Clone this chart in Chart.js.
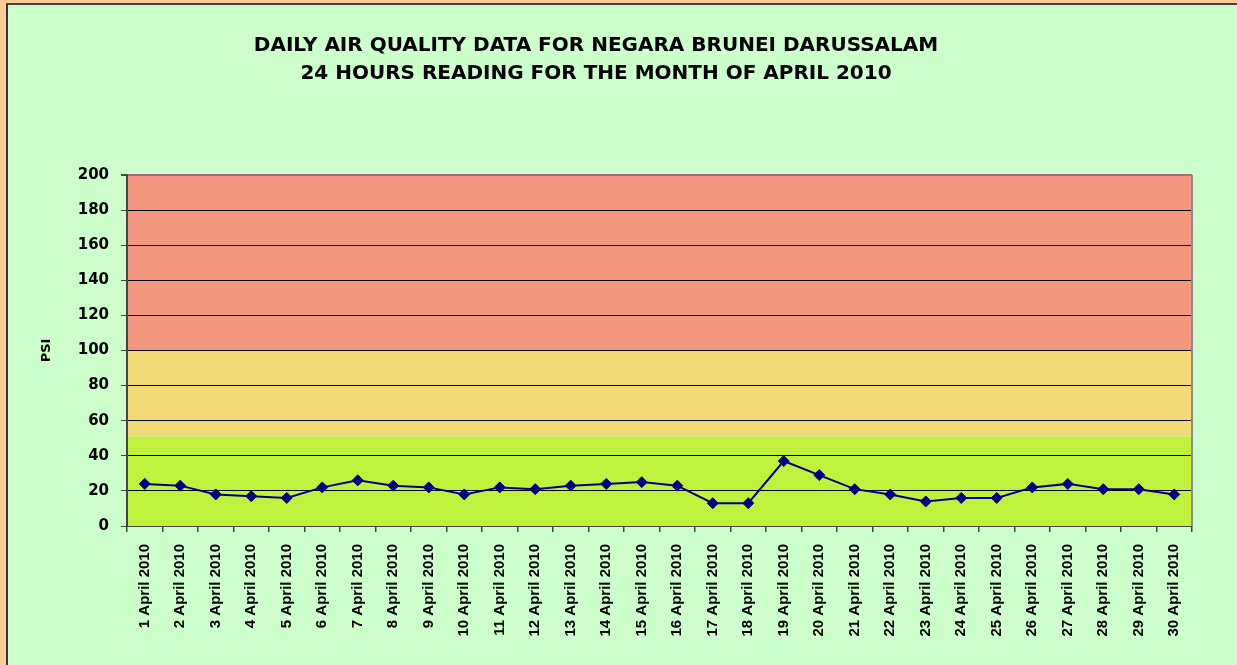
<!DOCTYPE html>
<html>
<head>
<meta charset="utf-8">
<script src="https://cdn.jsdelivr.net/npm/chart.js@4"></script>
<style>
  body { margin: 0; background: #FFCC99; overflow: hidden; }
  #panel { position: absolute; left: 6px; top: 3px; width: 1300px; height: 700px;
           background: #CCFFCC; border-left: 2px solid #333; border-top: 2px solid #444; }
  #psiChart { position: absolute; left: 0; top: 0; }
</style>
</head>
<body>
<div id="panel"></div>
<canvas id="psiChart" width="1237" height="665"></canvas>
<script>
// ngày trong tháng
const days = ['1 April 2010', '2 April 2010', '3 April 2010', '4 April 2010', '5 April 2010',
    '6 April 2010', '7 April 2010', '8 April 2010', '9 April 2010', '10 April 2010',
    '11 April 2010', '12 April 2010', '13 April 2010', '14 April 2010', '15 April 2010',
    '16 April 2010', '17 April 2010', '18 April 2010', '19 April 2010', '20 April 2010',
    '21 April 2010', '22 April 2010', '23 April 2010', '24 April 2010', '25 April 2010',
    '26 April 2010', '27 April 2010', '28 April 2010', '29 April 2010', '30 April 2010'];
// chỉ số PSI
const psi = [24, 23, 18, 17, 16, 22, 26, 23, 22, 18, 22, 21, 23, 24, 25,
    23, 13, 13, 37, 29, 21, 18, 14, 16, 16, 22, 24, 21, 21, 18];
const titleLines = ['DAILY AIR QUALITY DATA FOR NEGARA BRUNEI DARUSSALAM',
    '24 HOURS READING FOR THE MONTH OF APRIL 2010'];
const bandLimits = [0, 51, 100, 200];
const bandColors = ['#BEF23C', '#F3DA78', '#F29680'];

const FONT = 'DejaVu Sans';

// vẽ các dải màu nền
const bandsPlugin = {
    id: 'bands',
    beforeDraw(chart) {
        const { ctx, chartArea, scales } = chart;
        ctx.save();
        for (let i = 0; i < bandColors.length; i++) {
            const yTop = scales.y.getPixelForValue(bandLimits[i + 1]);
            const yBot = scales.y.getPixelForValue(bandLimits[i]);
            ctx.fillStyle = bandColors[i];
            ctx.fillRect(chartArea.left, yTop, chartArea.right - chartArea.left, yBot - yTop);
        }
        ctx.restore();
    },
    afterDraw(chart) {
        const { ctx, chartArea } = chart;
        ctx.save();
        ctx.strokeStyle = '#8c8c8c';
        ctx.lineWidth = 2;
        ctx.beginPath();
        ctx.moveTo(chartArea.right, chartArea.top);
        ctx.lineTo(chartArea.right, chartArea.bottom);
        ctx.stroke();
        ctx.restore();
    }
};

document.addEventListener('DOMContentLoaded', () => {
    const ctx = document.getElementById('psiChart').getContext('2d');
    new Chart(ctx, {
        type: 'line',
        data: {
            labels: days,
            datasets: [{
                label: 'PSI',
                data: psi,
                borderColor: '#000080',
                backgroundColor: '#000080',
                borderWidth: 2,
                pointStyle: 'rectRot',
                pointRadius: 5.5,
                pointBorderWidth: 1,
                tension: 0,
                fill: false
            }]
        },
        options: {
            responsive: false,
            animation: false,
            layout: { padding: { left: 0, right: 45, top: 0, bottom: 0 } },
            plugins: {
                legend: { display: false },
                tooltip: { enabled: false },
                title: {
                    display: true,
                    text: titleLines,
                    color: '#000',
                    font: { family: FONT, size: 20, weight: 'bold', lineHeight: 1.4 },
                    padding: { top: 32, bottom: 87 }
                }
            },
            scales: {
                x: {
                    offset: true,
                    afterFit(scale) { scale.height = 139; },
                    grid: {
                        offset: true,
                        drawOnChartArea: false,
                        tickLength: 6,
                        tickColor: '#444',
                        lineWidth: 1.5
                    },
                    border: { display: true, color: '#444', width: 1 },
                    ticks: {
                        autoSkip: false,
                        minRotation: 90,
                        maxRotation: 90,
                        padding: 12,
                        color: '#000',
                        font: { family: 'Liberation Sans', size: 15, weight: 'bold' }
                    }
                },
                y: {
                    min: 0,
                    max: 200,
                    afterFit(scale) { scale.width = 127; },
                    grid: {
                        color: (c) => c.tick && c.tick.value === 200 ? '#b06080' : '#000',
                        lineWidth: (c) => c.tick && c.tick.value === 200 ? 2 : 1,
                        tickLength: 6,
                        tickColor: '#444'
                    },
                    border: { display: true, color: '#444', width: 2 },
                    ticks: {
                        stepSize: 20,
                        padding: 12,
                        color: '#000',
                        font: { family: FONT, size: 15, weight: 'bold' }
                    },
                    title: {
                        display: true,
                        text: 'PSI',
                        color: '#000',
                        font: { family: FONT, size: 13, weight: 'bold' },
                        padding: { top: 39 }
                    }
                }
            }
        },
        plugins: [bandsPlugin]
    });
});
</script>
</body>
</html>
